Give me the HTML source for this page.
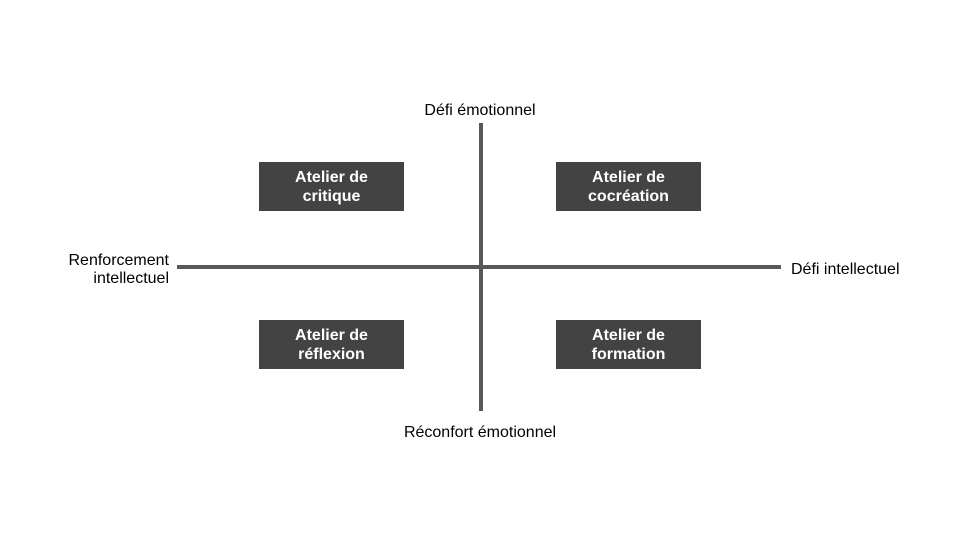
<!DOCTYPE html>
<html><head><meta charset="utf-8"><style>
body{margin:0;width:960px;height:540px;background:#fff;position:relative;overflow:hidden;font-family:"Liberation Sans",sans-serif;}
.b{position:absolute;width:145px;height:49px;background:#434343;color:#fff;font-weight:bold;font-size:16px;line-height:19px;text-align:center;display:flex;align-items:center;justify-content:center;}
.t{position:absolute;font-size:16px;line-height:18px;color:#000;}
.l{position:absolute;background:#595959;}
</style></head><body>
<div class="l" style="left:177px;top:265px;width:604px;height:4px"></div>
<div class="l" style="left:479px;top:123px;width:4px;height:288px"></div>
<div class="b" style="left:259px;top:162px">Atelier de<br>critique</div>
<div class="b" style="left:556px;top:162px">Atelier de<br>cocréation</div>
<div class="b" style="left:259px;top:320px">Atelier de<br>réflexion</div>
<div class="b" style="left:556px;top:320px">Atelier de<br>formation</div>
<div class="t" style="left:380px;top:102px;width:200px;text-align:center">Défi émotionnel</div>
<div class="t" style="left:380px;top:424px;width:200px;text-align:center">Réconfort émotionnel</div>
<div class="t" style="left:30px;top:252px;width:139px;text-align:right">Renforcement<br>intellectuel</div>
<div class="t" style="left:791px;top:261px">Défi intellectuel</div>
</body></html>
